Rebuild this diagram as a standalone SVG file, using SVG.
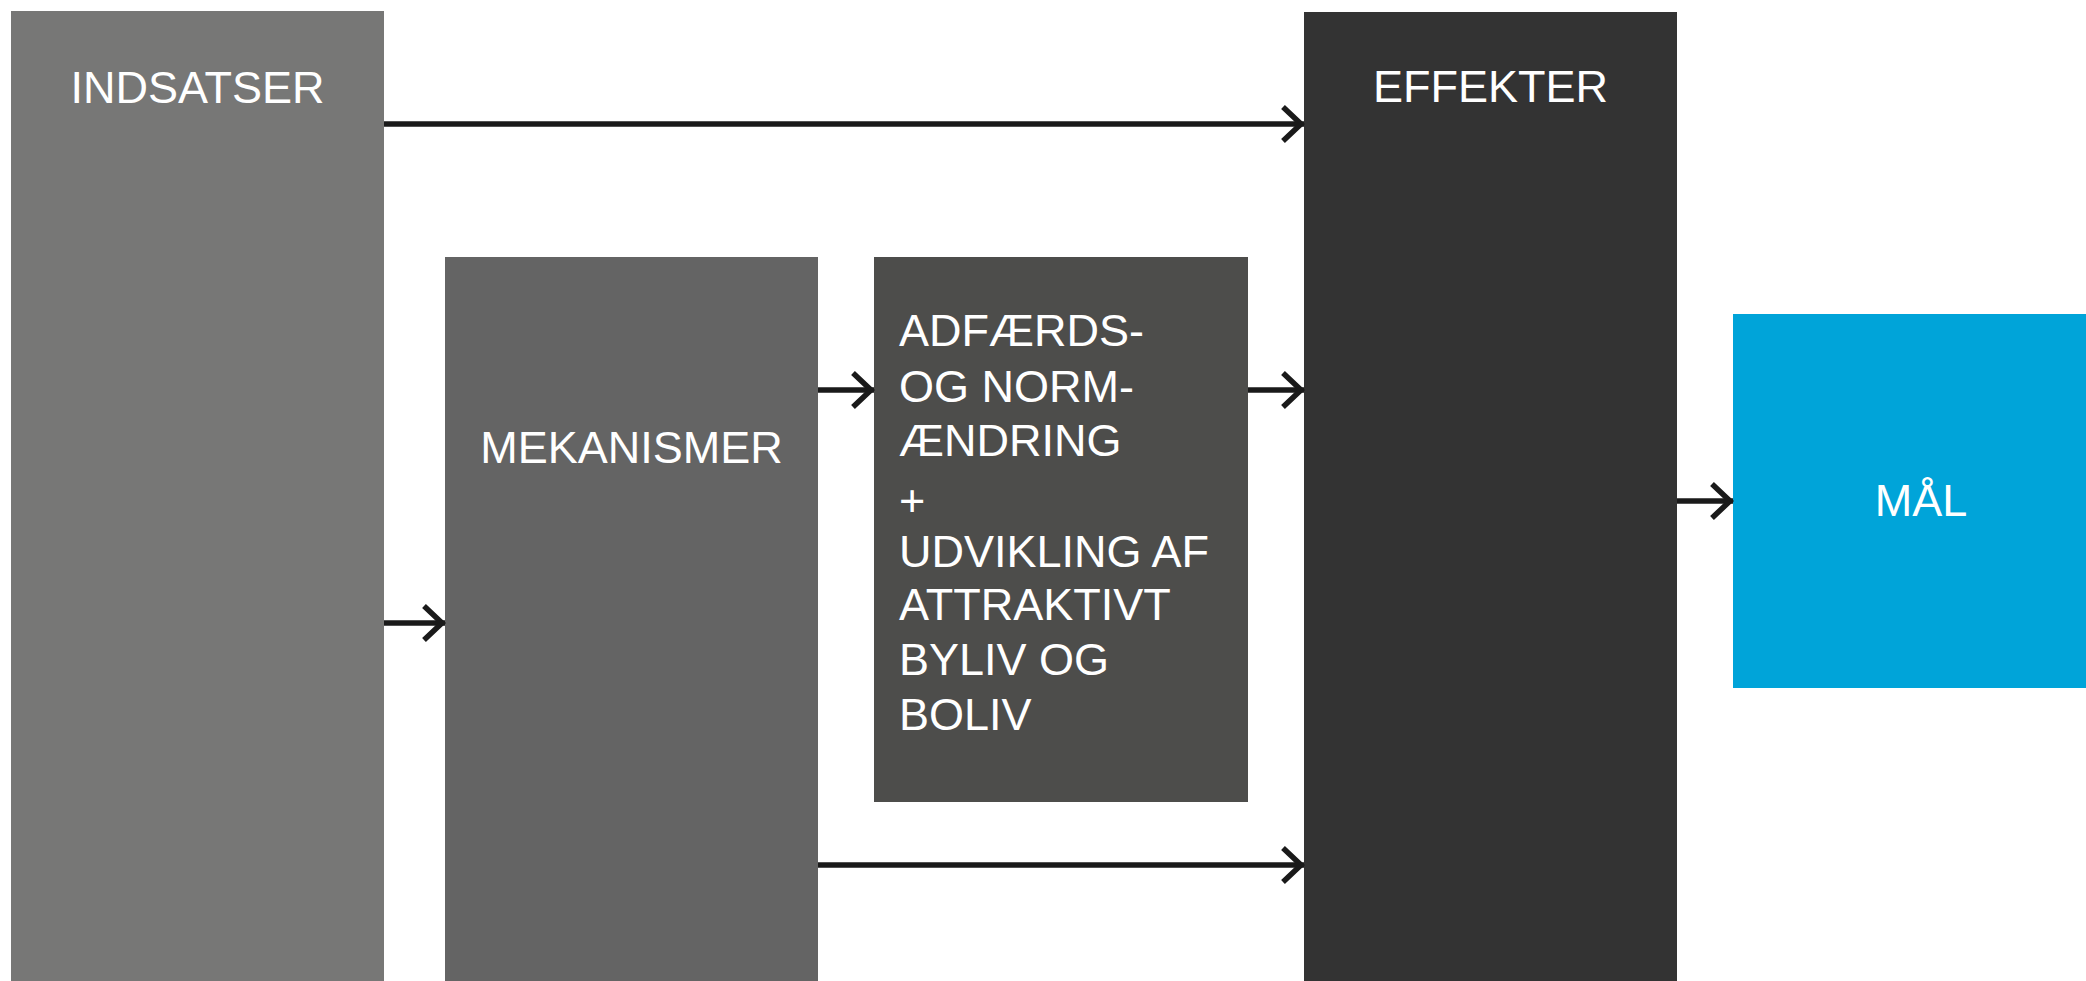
<svg xmlns="http://www.w3.org/2000/svg" width="2086" height="981" viewBox="0 0 2086 981">
<style>
.lbl{font-family:"Liberation Sans",Arial,Helvetica,sans-serif;font-size:45px;fill:#ffffff}
.mid{text-anchor:middle}
.conn{stroke:#1a1a1a;stroke-width:5.5;fill:none}
</style>
<defs>
<marker id="chev" markerUnits="userSpaceOnUse" viewBox="0 0 30 44" markerWidth="30" markerHeight="44" refX="25" refY="22" orient="auto">
<path d="M4 5 L22 22 L4 39" fill="none" stroke="#1a1a1a" stroke-width="5.5" stroke-linejoin="miter"/>
</marker>
</defs>
<rect width="2086" height="981" fill="#ffffff"/>
<g id="indsatser">
<rect x="11" y="11" width="373" height="980" fill="#777776"/>
<text class="lbl mid" x="197.5" y="103">INDSATSER</text>
</g>
<g id="mekanismer">
<rect x="445" y="257" width="373" height="734" fill="#646464"/>
<text class="lbl mid" x="631.5" y="463">MEKANISMER</text>
</g>
<g id="adfaerd">
<rect x="874" y="257" width="374" height="545" fill="#4d4d4b"/>
<text class="lbl" x="899">
<tspan x="899" y="346">ADFÆRDS-</tspan>
<tspan x="899" y="402">OG NORM-</tspan>
<tspan x="899" y="456">ÆNDRING</tspan>
<tspan x="899" y="516">+</tspan>
<tspan x="899" y="567">UDVIKLING AF</tspan>
<tspan x="899" y="620">ATTRAKTIVT</tspan>
<tspan x="899" y="675">BYLIV OG</tspan>
<tspan x="899" y="730">BOLIV</tspan>
</text>
</g>
<g id="effekter">
<rect x="1304" y="12" width="373" height="979" fill="#333333"/>
<text class="lbl mid" x="1490.5" y="102">EFFEKTER</text>
</g>
<g id="maal">
<rect x="1733" y="314" width="363" height="374" fill="#00a4d9"/>
<text class="lbl mid" x="1921" y="516">MÅL</text>
</g>
<g id="connectors">
<line class="conn" x1="384" y1="124" x2="1304" y2="124" marker-end="url(#chev)"/>
<line class="conn" x1="384" y1="623" x2="445" y2="623" marker-end="url(#chev)"/>
<line class="conn" x1="818" y1="390" x2="874" y2="390" marker-end="url(#chev)"/>
<line class="conn" x1="1248" y1="390" x2="1304" y2="390" marker-end="url(#chev)"/>
<line class="conn" x1="818" y1="865" x2="1304" y2="865" marker-end="url(#chev)"/>
<line class="conn" x1="1677" y1="501" x2="1733" y2="501" marker-end="url(#chev)"/>
</g>
</svg>
